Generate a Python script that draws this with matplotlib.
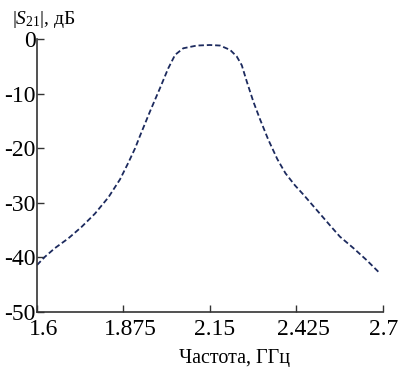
import numpy as np
import matplotlib
matplotlib.use("Agg")
import matplotlib.pyplot as plt
from matplotlib.transforms import ScaledTranslation

# |S21|
freq = [1.600, 1.625, 1.657, 1.700, 1.742, 1.784, 1.827, 1.864, 1.890, 1.912,
        1.927, 1.959, 1.991, 2.017, 2.039, 2.065, 2.108, 2.150, 2.182, 2.214,
        2.235, 2.251, 2.267, 2.288, 2.309, 2.335, 2.364, 2.390, 2.420, 2.447,
        2.489, 2.531, 2.563, 2.606, 2.648, 2.690]
s21 = [-41.4, -39.9, -38.3, -36.5, -34.4, -32.0, -29.0, -25.7, -22.7, -20.0,
       -17.8, -13.3, -9.0, -5.4, -2.9, -1.7, -1.2, -1.1, -1.2, -2.0,
       -3.2, -4.8, -7.8, -11.5, -14.7, -18.4, -22.0, -24.6, -26.8, -28.5,
       -31.3, -34.1, -36.2, -38.3, -40.5, -42.9]
xticks = [1.6, 1.875, 2.15, 2.425, 2.7]
xticklabels = ["1.6", "1.875", "2.15", "2.425", "2.7"]
yticks = [0, -10, -20, -30, -40, -50]

plt.rcParams['font.family'] = ['Liberation Serif', 'DejaVu Serif']
plt.rcParams['mathtext.fontset'] = 'custom'
plt.rcParams['mathtext.rm'] = 'Liberation Serif'
plt.rcParams['mathtext.it'] = 'Liberation Serif:italic'
plt.rc('axes', unicode_minus=False)

fig = plt.figure(figsize=(4.01, 3.67), dpi=100)
ax = fig.add_axes([37/401, 1-312/367, 346/401, 273/367])

ax.plot(freq, s21, color="#1c2a5e", lw=1.3, ls=(0, (3.0, 1.6)))

ax.set_xlim(1.6, 2.7)
ax.set_ylim(-50, 0)
ax.set_xticks(xticks)
ax.set_xticklabels(xticklabels)
ax.set_yticks(yticks)
for s in ["top", "right"]:
    ax.spines[s].set_visible(False)
for s in ["left", "bottom"]:
    ax.spines[s].set_color("#333333")
    ax.spines[s].set_linewidth(1.2)
ax.tick_params(axis="both", direction="in", length=5, width=1, color="#333333",
               labelsize=17)
ax.tick_params(axis="x", pad=5)
ax.tick_params(axis="y", pad=1)
# labels sit a little to the right of their ticks
shifts = [7, 7, 5, 7, 1]
for lab, dx in zip(ax.get_xticklabels(), shifts):
    lab.set_transform(lab.get_transform() + ScaledTranslation(dx/100, 0, fig.dpi_scale_trans))

ax.set_xlabel("Частота, ГГц", fontsize=14.5)
ax.xaxis.set_label_coords(0.57, -0.135)
fig.text(12/401, 1-19/367, r"|$\mathit{S}_{\mathrm{21}}$|, дБ", fontsize=14, va="center", ha="left")

fig.savefig("out.png", dpi=100)
